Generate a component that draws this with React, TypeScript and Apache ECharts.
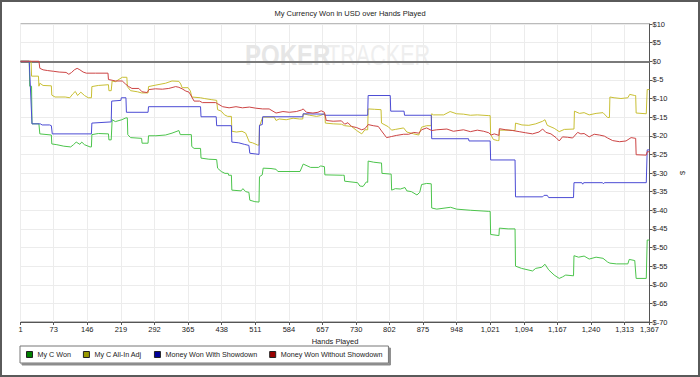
import React, { useEffect, useRef } from 'react';
import * as echarts from 'echarts';

const chartTitle = 'My Currency Won in USD over Hands Played';
const xAxisName = 'Hands Played';
const yAxisName = '$';
const seriesNames = ['My C Won', 'My C All-In Adj', 'Money Won With Showdown', 'Money Won Without Showdown'];
const lineColors = ['#4cc44c', '#c8bf34', '#4c4cd4', '#cc4444'];
const legendColors = ['#008000', '#999900', '#000099', '#990000'];
const xTickValues = [1, 73, 146, 219, 292, 365, 438, 511, 584, 657, 730, 802, 875, 948, 1021, 1094, 1167, 1240, 1313, 1367];
const yRange = [-70, 10];
const yStep = 5;

const myCWon: [number, number][] = [
  [1, 0], [20, 0], [21, -6.7], [25, -6.7], [26, -16.8], [41, -16.8], [43, -19.5], [68, -19.8], [69, -22.2], [80, -22.4],
  [95, -22.8], [110, -23], [116, -22.4], [122, -21.7], [130, -22.3], [134, -21.7], [140, -22.4], [152, -23], [155, -23],
  [156, -19.7], [170, -19.4], [192, -19.5], [193, -21.1], [198, -21.1], [200, -15.7], [207, -16.2], [221, -15.7],
  [230, -15.2], [233, -15.2], [234, -19.7], [240, -20.5], [264, -20.7], [265, -22], [278, -22], [279, -20], [295, -20],
  [316, -19.8], [330, -19.3], [345, -18.6], [348, -19.7], [372, -19.7], [373, -22.9], [378, -23.4], [392, -23.4],
  [393, -26], [410, -26.3], [427, -26.4], [429, -28.7], [437, -29.6], [445, -30.1], [452, -30.1], [453, -30.6],
  [459, -30.6], [460, -34.6], [480, -34.8], [484, -34.2], [490, -35], [497, -35.2], [499, -37.3], [510, -37.7],
  [519, -37.8], [520, -31], [526, -30.5], [528, -28.7], [545, -28.8], [556, -29], [560, -29.6], [608, -29.6],
  [615, -27.6], [631, -28.5], [648, -28.5], [653, -28.1], [661, -28.3], [662, -30.5], [700, -30.6], [704, -30.6],
  [705, -32.2], [733, -32.6], [738, -33.5], [745, -33.6], [752, -32.4], [755, -32.5], [756, -26.8], [768, -27.1],
  [782, -27.3], [785, -27.3], [786, -30.1], [806, -30.3], [807, -34.6], [815, -34.2], [826, -34.3], [836, -33.9],
  [840, -34.8], [850, -35], [862, -35.9], [868, -35.2], [872, -33.1], [883, -32.8], [893, -32.9], [894, -39.4],
  [905, -39.7], [935, -39.2], [948, -39.7], [978, -40], [1018, -40.3], [1021, -40.3], [1022, -46.5], [1040, -46.8],
  [1041, -44.8], [1060, -45], [1075, -45], [1076, -55], [1089, -55.6], [1113, -56.3], [1120, -55.6], [1133, -55.3],
  [1140, -54.5], [1148, -56], [1160, -57.4], [1171, -58.3], [1178, -57.9], [1185, -57.4], [1202, -57.6], [1203, -52.2],
  [1213, -52.6], [1225, -52.3], [1236, -53.1], [1251, -52.6], [1266, -52.9], [1276, -53.9], [1281, -54.2],
  [1295, -54.4], [1320, -54.4], [1323, -53.2], [1335, -53.5], [1338, -58.3], [1360, -58.3], [1362, -48], [1367, -48],
];

const myCAllInAdj: [number, number][] = [
  [1, 0], [24, 0], [25, -4], [40, -4], [41, -6.7], [43, -5.9], [50, -6.5], [68, -6.6], [69, -9.1], [76, -9.6],
  [98, -9.6], [108, -9.8], [115, -8.7], [120, -8.1], [125, -9.2], [132, -8.3], [140, -9.2], [148, -9.8], [155, -9.8],
  [156, -6.8], [170, -6.5], [192, -6.3], [193, -7.9], [198, -7.9], [200, -5.3], [207, -5.5], [222, -4.3], [232, -4.3],
  [233, -6.8], [240, -7.9], [255, -8.2], [264, -8.5], [278, -8.5], [279, -6.8], [295, -6.4], [316, -5.9], [330, -5.3],
  [345, -5.4], [349, -6.1], [352, -7.1], [365, -7.1], [370, -8], [373, -9.6], [392, -9.8], [400, -10], [415, -10.3],
  [427, -10.5], [429, -13], [437, -13.4], [444, -14.4], [451, -14.8], [459, -14.8], [460, -18.8], [470, -19],
  [482, -18.8], [490, -19.3], [498, -21.7], [505, -21.9], [516, -22.5], [519, -22.5], [520, -17.5], [527, -15],
  [552, -15], [556, -15.9], [563, -15.5], [578, -15.7], [593, -15.3], [607, -15.5], [614, -15.5], [615, -14.1],
  [629, -14.5], [644, -14.8], [652, -14.6], [660, -14.1], [662, -14.1], [663, -16.6], [680, -16.8], [698, -16.9],
  [705, -17.3], [720, -17.5], [731, -18.6], [742, -19.5], [749, -18.4], [755, -18.4], [756, -12.8], [770, -12.9],
  [784, -13], [785, -16.6], [800, -17.6], [807, -18.5], [815, -18.3], [833, -17.9], [840, -19], [855, -19.5],
  [866, -19.8], [872, -17.7], [883, -17.3], [893, -17.3], [894, -14.1], [898, -14.4], [920, -14.4], [934, -13.5],
  [948, -14.1], [963, -14.2], [978, -14.5], [993, -14.4], [1018, -14.6], [1021, -14.6], [1022, -19.7], [1028, -21],
  [1037, -21.3], [1040, -21.3], [1041, -18.5], [1060, -18.5], [1075, -18.6], [1076, -16.6], [1090, -17.1],
  [1105, -17.2], [1120, -16.8], [1135, -16.1], [1140, -15.7], [1145, -17.2], [1160, -18], [1171, -18.9],
  [1182, -18.3], [1203, -18.2], [1204, -13.4], [1215, -14], [1225, -13.8], [1236, -14.4], [1251, -14], [1266, -13.8],
  [1276, -15.1], [1280, -15.1], [1281, -9.6], [1290, -9.8], [1305, -10], [1320, -9.8], [1324, -8.9], [1335, -9.2],
  [1337, -9.2], [1338, -13.9], [1360, -14.1], [1362, -7.6], [1367, -7.6],
];

const wonWithShowdown: [number, number][] = [
  [1, 0], [20, 0], [26, -16.8], [44, -16.8], [48, -17.1], [64, -17.1], [68, -17.3], [70, -19.5], [155, -19.5],
  [156, -16.6], [196, -16.3], [198, -16.3], [199, -10.7], [219, -10.5], [220, -9.8], [230, -9.8], [231, -13.7],
  [278, -13.7], [279, -12.2], [392, -12.2], [393, -14.9], [426, -14.9], [427, -17.3], [459, -17.3], [460, -21.7],
  [475, -21.9], [487, -22.3], [497, -22.6], [499, -24.7], [519, -25], [520, -17.2], [526, -17], [527, -14.9],
  [614, -14.9], [615, -14.1], [660, -14.2], [662, -14.5], [755, -14.5], [756, -9.2], [804, -9.2], [805, -13.4],
  [834, -13.4], [835, -14.5], [893, -14.5], [894, -20.8], [974, -20.8], [975, -21.4], [1021, -21.4], [1022, -26.5],
  [1075, -26.5], [1076, -36.4], [1135, -36.4], [1138, -36], [1145, -36], [1148, -36.6], [1202, -36.6],
  [1203, -32.6], [1220, -32.6], [1222, -33], [1224, -32.6], [1265, -32.6], [1267, -32.9], [1269, -32.6],
  [1360, -32.6], [1362, -23.8], [1367, -23.8],
];

const wonWithoutShowdown: [number, number][] = [
  [1, 0], [41, 0], [43, -1.9], [50, -2.3], [60, -2.5], [73, -2.7], [85, -2.9], [100, -3], [106, -3.5], [112, -3],
  [118, -2.3], [124, -1.9], [130, -2.3], [137, -2.9], [144, -3.2], [164, -3.2], [191, -3.2], [192, -4.9], [200, -5.1],
  [207, -5.3], [222, -5.3], [229, -6.1], [236, -6.8], [243, -7.3], [258, -7.3], [265, -8.2], [276, -8.4], [280, -7.6],
  [294, -7.4], [309, -7.5], [323, -7.3], [338, -6.8], [345, -7], [352, -7.4], [360, -8], [367, -8.3], [373, -9.6],
  [378, -10.7], [390, -10.7], [396, -11.1], [425, -11.1], [429, -11.4], [440, -12.2], [454, -12.5], [469, -12.2],
  [483, -12.5], [498, -12.3], [512, -12.6], [527, -12.8], [541, -12.8], [556, -13.9], [571, -13.5], [585, -13.7],
  [600, -13.5], [611, -13.1], [615, -12.8], [622, -13.7], [636, -13.9], [647, -13.7], [654, -13.3], [661, -13.7],
  [665, -15.9], [680, -16.1], [698, -16], [705, -16.9], [712, -16.5], [720, -17.5], [731, -17.8], [742, -18.4],
  [749, -18.1], [756, -17], [767, -17.3], [778, -17.5], [785, -18.7], [796, -20.5], [807, -20.2], [818, -19.9],
  [833, -19.6], [844, -19.6], [855, -19.1], [866, -19.3], [872, -18.4], [883, -17.9], [894, -18.6], [905, -18.4],
  [927, -18.2], [941, -18.8], [963, -18.4], [978, -18.9], [993, -18.5], [1007, -18.8], [1018, -19.2], [1023, -19.8],
  [1030, -19.5], [1040, -19.9], [1041, -18.1], [1055, -18.4], [1070, -18.6], [1084, -18.9], [1098, -19.2],
  [1113, -19.5], [1127, -19], [1135, -18.2], [1142, -19.1], [1153, -19.5], [1164, -20.5], [1171, -21.4],
  [1178, -20.3], [1189, -20.4], [1200, -20.6], [1211, -19.1], [1218, -19.5], [1225, -19.4], [1236, -20.3],
  [1247, -19.6], [1258, -19.8], [1269, -20.1], [1276, -20.6], [1287, -21.3], [1302, -21.6], [1316, -21.4],
  [1327, -20.5], [1337, -20.7], [1338, -25.1], [1360, -25.2], [1362, -24.3], [1367, -24.3],
];

const seriesData = [myCWon, myCAllInAdj, wonWithShowdown, wonWithoutShowdown];

const FONT = '"Liberation Sans", Arial, sans-serif';

export default function App() {
  const ref = useRef<HTMLDivElement>(null);
  useEffect(() => {
    if (!ref.current) return;
    const chart = echarts.init(ref.current, undefined, { renderer: 'svg' });
    const fmtHand = (v: number) => v.toLocaleString('en-US');
    chart.setOption({
      animation: false,
      backgroundColor: '#ffffff',
      textStyle: { fontFamily: FONT },
      title: {
        text: chartTitle,
        left: 'center',
        top: 9,
        padding: 0,
        textStyle: { fontSize: 7.5, fontWeight: 'normal', color: '#222', fontFamily: FONT },
      },
      grid: {
        left: 20.5,
        right: 50.5,
        top: 24,
        bottom: 55,
        show: true,
        borderColor: '#777',
        borderWidth: 1,
        backgroundColor: 'transparent',
      },
      legend: {
        left: 20,
        top: 346,
        orient: 'horizontal',
        icon: 'rect',
        itemWidth: 6,
        itemHeight: 6,
        itemGap: 12,
        padding: [5, 6, 5, 6],
        borderColor: '#777',
        borderWidth: 1,
        backgroundColor: '#fff',
        shadowColor: 'rgba(0,0,0,0.45)',
        shadowOffsetX: 2,
        shadowOffsetY: 2,
        shadowBlur: 0,
        selectedMode: false,
        textStyle: { fontSize: 7.2, color: '#222', fontFamily: FONT },
        data: seriesNames.map((n, i) => ({
          name: n,
          itemStyle: { color: legendColors[i], borderColor: '#222', borderWidth: 1 },
        })),
      },
      xAxis: {
        type: 'value',
        min: xTickValues[0],
        max: xTickValues[xTickValues.length - 1],
        name: xAxisName,
        nameLocation: 'middle',
        nameGap: 14,
        nameTextStyle: { fontSize: 7.5, color: '#222', fontFamily: FONT },
        axisLine: { show: true, onZero: false, lineStyle: { color: '#555', width: 1 } },
        axisTick: { show: true, length: 3, customValues: xTickValues, lineStyle: { color: '#555' } },
        axisLabel: {
          customValues: xTickValues,
          fontSize: 7.5,
          color: '#222',
          margin: 3,
          fontFamily: FONT,
          formatter: (v: number) => fmtHand(v),
        },
        splitLine: { show: true, customValues: xTickValues, lineStyle: { color: '#ececec', width: 1 } },
      },
      yAxis: {
        type: 'value',
        position: 'right',
        min: yRange[0],
        max: yRange[1],
        interval: yStep,
        name: yAxisName,
        nameLocation: 'middle',
        nameGap: 22,
        nameTextStyle: { fontSize: 7.5, color: '#222', fontFamily: FONT },
        axisLine: { show: true, lineStyle: { color: '#555', width: 1 } },
        axisTick: { show: true, length: 3, lineStyle: { color: '#555' } },
        axisLabel: {
          fontSize: 7.5,
          color: '#222',
          margin: 3,
          fontFamily: FONT,
          formatter: (v: number) => '$' + v,
        },
        splitLine: { show: true, lineStyle: { color: '#ececec', width: 1 } },
      },
      graphic: [
        {
          type: 'text',
          x: 245,
          y: 55,
          scaleX: 0.8,
          z: 1,
          silent: true,
          style: {
            text: 'POKER',
            fontSize: 30,
            fontWeight: 'bold',
            fontFamily: FONT,
            fill: '#e6e6e6',
            align: 'left',
            verticalAlign: 'middle',
          },
        },
        {
          type: 'text',
          x: 327,
          y: 55,
          scaleX: 0.72,
          z: 1,
          silent: true,
          style: {
            text: 'TRACKER',
            fontSize: 30,
            fontFamily: FONT,
            fill: '#eeeeee',
            align: 'left',
            verticalAlign: 'middle',
          },
        },
        {
          type: 'rect',
          z: 100,
          silent: true,
          shape: { x: 1, y: 1, width: 698, height: 375 },
          style: { fill: 'none', stroke: '#5a5a5a', lineWidth: 2 },
        },
      ],
      series: seriesData.map((d, i) => ({
        name: seriesNames[i],
        type: 'line',
        data: d,
        showSymbol: false,
        symbol: 'none',
        lineStyle: { color: lineColors[i], width: 1 },
        itemStyle: { color: lineColors[i] },
        z: 3 + i,
        markLine:
          i === 0
            ? {
                silent: true,
                symbol: ['none', 'none'],
                label: { show: false },
                lineStyle: { color: '#7a7a7a', width: 2, type: 'solid' },
                data: [{ yAxis: 0 }],
                z: 2,
              }
            : undefined,
      })),
    });
    return () => chart.dispose();
  }, []);
  return (
    <div
      ref={ref}
      style={{ position: 'absolute', left: 0, top: 0, width: 700, height: 377 }}
    />
  );
}
